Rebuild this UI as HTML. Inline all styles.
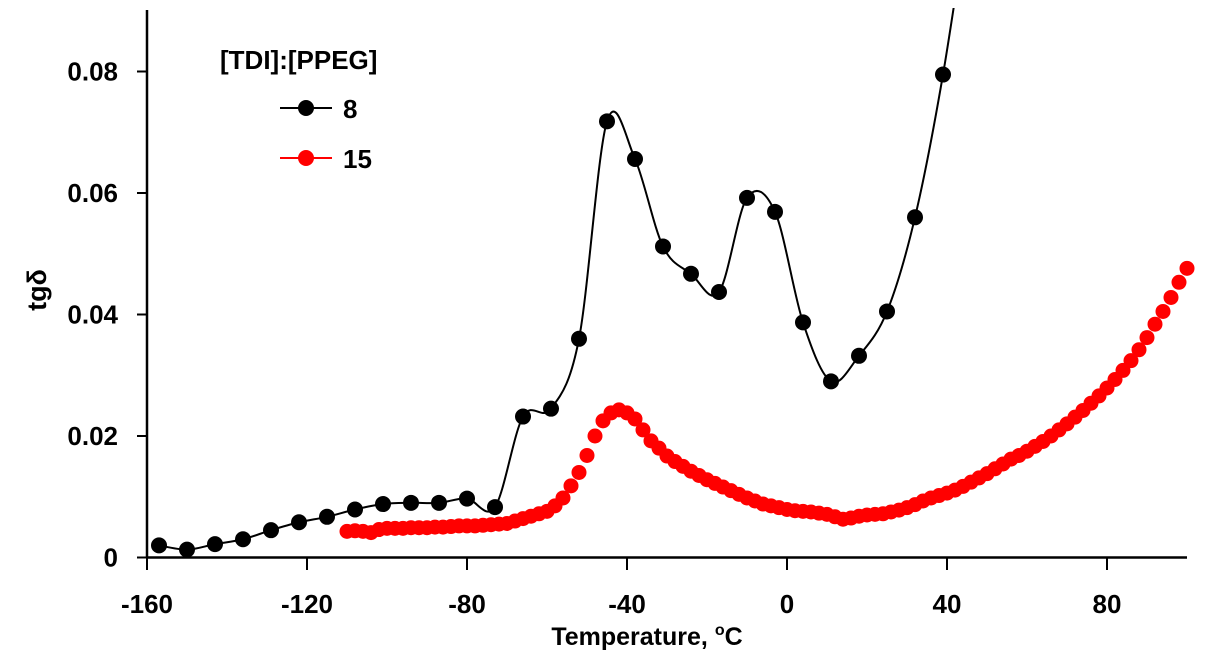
<!DOCTYPE html>
<html><head><meta charset="utf-8"><style>
body{margin:0;background:#fff;}
svg{display:block;font-family:"Liberation Sans",sans-serif;font-weight:bold;}
</style></head><body>
<svg id="chart" width="1209" height="666" viewBox="0 0 1209 666" xmlns="http://www.w3.org/2000/svg">
<defs><clipPath id="plotclip"><rect x="147" y="8" width="1050" height="552"/></clipPath></defs>
<g id="axes"></g>
<g id="series" clip-path="url(#plotclip)"></g>
<text x="647" y="645" text-anchor="middle" font-size="25">Temperature, <tspan font-size="16" dy="-10">o</tspan><tspan dy="10">C</tspan></text>
<text transform="translate(46,290) rotate(-90)" text-anchor="middle" font-size="27">tgδ</text>
<g>
<text x="220" y="69" font-size="26">[TDI]:[PPEG]</text>
<g>
<line x1="280" y1="108" x2="332" y2="108" stroke="#000" stroke-width="2"/>
<circle cx="306" cy="108" r="8" fill="#000"/>
<text x="343" y="118" font-size="26">8</text></g>
<g>
<line x1="280" y1="158" x2="332" y2="158" stroke="#f00" stroke-width="2"/>
<circle cx="306" cy="158" r="8" fill="#f00"/>
<text x="343" y="168" font-size="26">15</text></g>
</g>
</svg>
<script>
const xTicks=[-160,-120,-80,-40,0,40,80];
const yTicks=[0,0.02,0.04,0.06,0.08];
const yTickLabels=["0","0.02","0.04","0.06","0.08"];
const blackT=[-157,-150,-143,-136,-129,-122,-115,-108,-101,-94,-87,-80,-73,-66,-59,-52,-45,-38,-31,-24,-17,-10,-3,4,11,18,25,32,39];
const blackV=[0.002,0.0013,0.0022,0.003,0.0045,0.0058,0.0067,0.0079,0.0088,0.009,0.009,0.0097,0.0083,0.0232,0.0245,0.036,0.0718,0.0656,0.0512,0.0467,0.0437,0.0592,0.0569,0.0387,0.029,0.0332,0.0405,0.056,0.0795];
const redStart=-110, redStep=2;
const redV=[.0043,.0044,.0043,.0041,.0046,.0048,.0048,.0048,.0049,.0049,.0049,.0050,.0050,.0051,.0052,.0052,.0052,.0053,.0054,.0055,.0056,.0060,.0064,.0068,.0072,.0076,.0085,.0098,.0118,.0140,.0168,.0200,.0225,.0238,.0243,.0238,.0228,.0210,.0192,.0180,.0167,.0158,.0150,.0142,.0135,.0128,.0122,.0116,.0110,.0104,.0098,.0093,.0088,.0085,.0082,.0079,.0077,.0076,.0075,.0073,.0071,.0067,.0063,.0065,.0068,.0070,.0071,.0072,.0075,.0078,.0082,.0087,.0093,.0098,.0102,.0106,.0111,.0117,.0124,.0131,.0138,.0146,.0154,.0162,.0168,.0175,.0183,.0191,.0200,.0210,.0220,.0231,.0242,.0254,.0266,.0279,.0293,.0308,.0324,.0342,.0362,.0384,.0405,.0428,.0453,.0476];
const NS="http://www.w3.org/2000/svg";
const xs=t=>787+4*t;
const ys=v=>557.5-6075*v;
function mk(tag,attrs,parent){const e=document.createElementNS(NS,tag);for(const k in attrs)e.setAttribute(k,attrs[k]);parent.appendChild(e);return e;}
const axes=document.getElementById('axes');
const series=document.getElementById('series');
let a=mk('line',{x1:147,y1:10,x2:147,y2:558,stroke:'#000','stroke-width':2.5},axes);


a=mk('line',{x1:146,y1:557.5,x2:1187,y2:557.5,stroke:'#000','stroke-width':2.5},axes);


xTicks.forEach(t=>{
  const l=mk('line',{x1:xs(t),y1:557,x2:xs(t),y2:570,stroke:'#000','stroke-width':2},axes);
  
  
  const tx=mk('text',{x:xs(t),y:613,'text-anchor':'middle','font-size':26},axes);
  tx.textContent=t;
  
  
});
yTicks.forEach((v,i)=>{
  const l=mk('line',{x1:137,y1:ys(v),x2:147,y2:ys(v),stroke:'#000','stroke-width':2},axes);
  
  
  const tx=mk('text',{x:118,y:ys(v)+9,'text-anchor':'end','font-size':26},axes);
  tx.textContent=yTickLabels[i];
  
  
});
const pts=blackT.map((t,i)=>[xs(t),ys(blackV[i])]);
const n=pts.length;
const ext=[2*pts[n-1][0]-pts[n-2][0],2*pts[n-1][1]-pts[n-2][1]-40];
const P=[pts[0]].concat(pts,[ext,ext]);
let d='M'+pts[0][0]+','+pts[0][1];
for(let i=1;i<P.length-2;i++){
  const p0=P[i-1],p1=P[i],p2=P[i+1],p3=P[i+2];
  const c1=[p1[0]+(p2[0]-p0[0])/6,p1[1]+(p2[1]-p0[1])/6];
  const c2=[p2[0]-(p3[0]-p1[0])/6,p2[1]-(p3[1]-p1[1])/6];
  d+=' C'+c1+' '+c2+' '+p2;
}
const bl=mk('path',{d:d,fill:'none',stroke:'#000','stroke-width':2},series);


redV.forEach((v,i)=>{
  const c=mk('circle',{cx:xs(redStart+i*redStep),cy:ys(v),r:7.5,fill:'#f00'},series);
  
  
});
blackT.forEach((t,i)=>{
  const c=mk('circle',{cx:xs(t),cy:ys(blackV[i]),r:8,fill:'#000'},series);
  
  
});
</script>
</body></html>
